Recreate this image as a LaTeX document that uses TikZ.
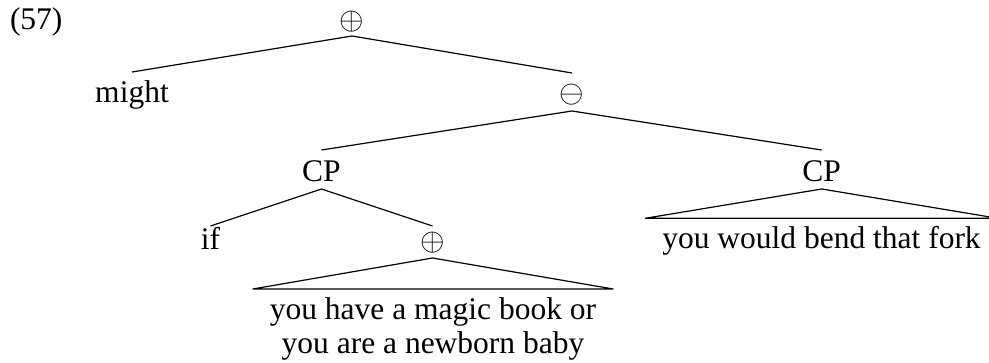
\RequirePackage{fix-cm}
\documentclass[tikz,border=0pt]{standalone}
\usepackage{fontspec}
\setmainfont{Liberation Serif}
\begin{document}
\begin{tikzpicture}[x=1pt,y=-1pt,
  every node/.style={font=\fontsize{31.5}{34.5}\selectfont, inner sep=0pt, outer sep=0pt},
  edge/.style={line width=1.2pt, line join=round},
  roof/.style={align=center, inner xsep=17pt, inner ysep=0pt}]
\useasboundingbox (0,0) rectangle (989,363);
\clip (0,0) rectangle (989,363);
\node[anchor=base west] (ex) at (10,29.5) {(57)};
\node (o0) at (352,22) {$\oplus$};
\node[anchor=base] (might) at (132,103) {might};
\node (o1) at (572,95) {$\ominus$};
\node[anchor=base] (cpl) at (321.5,182) {CP};
\node[anchor=base] (cpr) at (821.7,182) {CP};
\node[anchor=base] (if) at (210.5,250) {if};
\node (o2) at (432.5,242.5) {$\oplus$};
\node[roof, anchor=north] (t1) at (433,297.5) {you have a magic book or\\you are a newborn baby};
\node[roof, anchor=north] (t2) at (821.5,226.8) {you would bend that fork};
\draw[edge] ([yshift=31pt]might.base) -- ([yshift=-14pt]o0.center) -- ([yshift=22pt]o1.center);
\draw[edge] ([yshift=32pt]cpl.base) -- ([yshift=-16pt]o1.center) -- ([yshift=32pt]cpr.base);
\draw[edge] ([yshift=24pt]if.base) -- ([yshift=-7pt]cpl.base) -- ([yshift=16.5pt]o2.center);
\draw[edge] ([yshift=8.5pt]t1.north west) -- ([yshift=-15.5pt]o2.center) -- ([yshift=8.5pt]t1.north east) -- cycle;
\draw[edge] ([yshift=8.5pt]t2.north west) -- ([yshift=-7pt]cpr.base) -- ([yshift=8.5pt]t2.north east) -- cycle;
\end{tikzpicture}
\end{document}
